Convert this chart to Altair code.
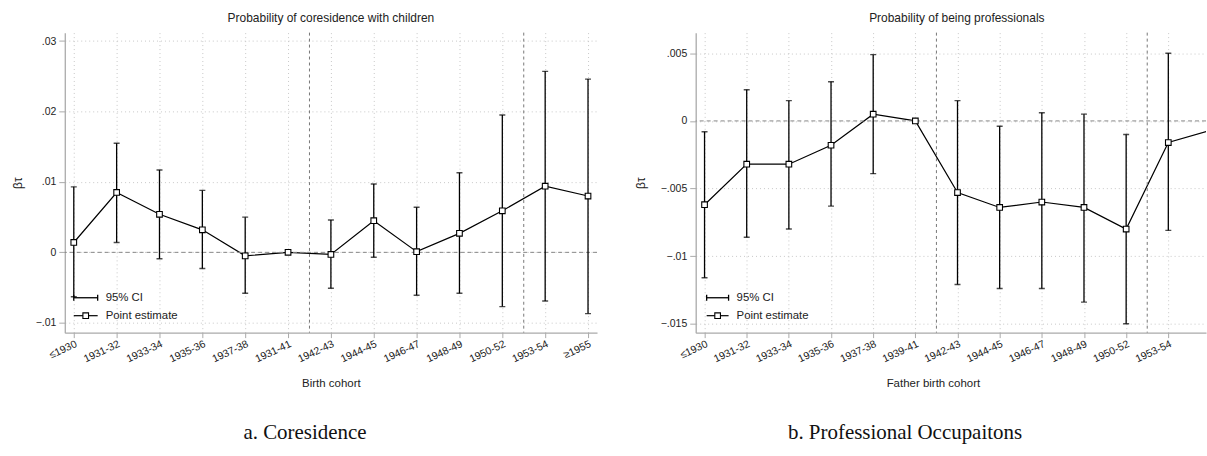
import altair as alt
import pandas as pd

# ---------------- data ----------------
cohorts_a = ["≤1930", "1931-32", "1933-34", "1935-36", "1937-38", "1931-41", "1942-43",
             "1944-45", "1946-47", "1948-49", "1950-52", "1953-54", "≥1955"]
est_a = [0.0014, 0.0085, 0.0054, 0.0032, -0.0005, 0.0, -0.0003, 0.0045, 0.0001, 0.0027, 0.0059, 0.0094, 0.0080]
lo_a = [-0.0063, 0.0014, -0.0009, -0.0023, -0.0058, None, -0.0051, -0.0007, -0.0061, -0.0058, -0.0077, -0.0069, -0.0087]
hi_a = [0.0093, 0.0155, 0.0117, 0.0088, 0.0050, None, 0.0046, 0.0097, 0.0064, 0.0113, 0.0195, 0.0257, 0.0246]

cohorts_b = ["≤1930", "1931-32", "1933-34", "1935-36", "1937-38", "1939-41", "1942-43",
             "1944-45", "1946-47", "1948-49", "1950-52", "1953-54", "≥1955"]
est_b = [-0.0062, -0.0032, -0.0032, -0.0018, 0.0005, 0.0, -0.0053, -0.0064, -0.0060, -0.0064, -0.0080, -0.0016, -0.0007]
lo_b = [-0.0116, -0.0086, -0.0080, -0.0063, -0.0039, None, -0.0121, -0.0124, -0.0124, -0.0134, -0.0150, -0.0081, -0.0075]
hi_b = [-0.0008, 0.0023, 0.0015, 0.0029, 0.0049, None, 0.0015, -0.0004, 0.0006, 0.0005, -0.0010, 0.0050, 0.0060]

yticks_a = [-0.01, 0.0, 0.01, 0.02, 0.03]
yticks_b = [-0.015, -0.01, -0.005, 0.0, 0.005]
breaks = [5.5, 10.5]

FONT = "Liberation Sans"
H = 301
EXT = 30


def panel(labels, est, lo, hi, ydom, yticks, title, xtitle, width, xmax, shown, caption, cap_x,
          leg_x0, ytitle_pad, xtitle_x=None, title_dx=0):
    df = pd.DataFrame({"idx": list(range(len(labels))), "label": labels,
                       "est": est, "lo": lo, "hi": hi})
    ci = df.dropna(subset=["lo", "hi"])
    arr = "[" + ",".join("'" + s + "'" for s in labels) + "]"
    xdom = [-0.21, xmax]

    xaxis = alt.Axis(values=list(range(shown)), labelExpr=arr + "[datum.value]",
                     labelAngle=-25, labelAlign="right", labelBaseline="top", labelPadding=1,
                     labelFont=FONT, labelFontSize=10.5, labelColor="#222",
                     grid=True, gridDash=[1, 3], gridColor="#c8c8c8", gridWidth=1,
                     tickSize=5, tickColor="#aaa", domainColor="#aaa", domainWidth=1.3,
                     title=xtitle, titleFont=FONT, titleFontSize=11.5, titleFontWeight="normal",
                     titleColor="#222", titlePadding=13,
                     **({"titleX": xtitle_x} if xtitle_x is not None else {}))
    yaxis = alt.Axis(values=yticks,
                     labelExpr="datum.value == 0 ? '0' : replace(format(datum.value, '~g'), '0.', '.')",
                     labelFont=FONT, labelFontSize=10.5, labelColor="#222", labelPadding=3,
                     grid=True, gridDash=[1, 3], gridColor="#c8c8c8", gridWidth=1,
                     tickSize=6, tickColor="#aaa", domainColor="#aaa", domainWidth=1.3,
                     minExtent=EXT, maxExtent=EXT,
                     title="βτ", titleFont=FONT, titleFontSize=12, titleFontWeight="normal",
                     titleColor="#222", titlePadding=ytitle_pad)

    x = alt.X("idx:Q", scale=alt.Scale(domain=xdom, nice=False, zero=False), axis=xaxis)
    y = alt.Y("est:Q", scale=alt.Scale(domain=ydom, nice=False, zero=False), axis=yaxis)

    base = alt.Chart(df)
    zero = alt.Chart(pd.DataFrame({"z": [0.0]})).mark_rule(
        color="#888", strokeDash=[4, 3], strokeWidth=1).encode(y=alt.Y("z:Q"))
    vlines = alt.Chart(pd.DataFrame({"b": breaks})).mark_rule(
        color="#777", strokeDash=[3, 3], strokeWidth=1).encode(x=alt.X("b:Q"))
    bars = alt.Chart(ci).mark_rule(color="black", strokeWidth=1.3, clip=True).encode(
        x="idx:Q", y="lo:Q", y2="hi:Q")
    cap_lo = alt.Chart(ci).mark_tick(color="black", orient="horizontal", size=6, thickness=1.4,
                                     clip=True).encode(x="idx:Q", y="lo:Q")
    cap_hi = alt.Chart(ci).mark_tick(color="black", orient="horizontal", size=6, thickness=1.4,
                                     clip=True).encode(x="idx:Q", y="hi:Q")
    line = base.mark_line(color="black", strokeWidth=1.2, clip=True).encode(x=x, y=y)
    pts = base.mark_square(size=32, color="white", stroke="black", strokeWidth=1.1, opacity=1,
                           clip=True).encode(x="idx:Q", y="est:Q")

    one = alt.Chart(pd.DataFrame({"a": [1]}))
    r1, r2 = 266, 284
    leg = [
        one.mark_rule(color="black", strokeWidth=1.3).encode(
            x=alt.value(leg_x0), x2=alt.value(33), y=alt.value(r1)),
        one.mark_rule(color="black", strokeWidth=1.3).encode(
            x=alt.value(leg_x0), y=alt.value(r1 - 3), y2=alt.value(r1 + 3)),
        one.mark_rule(color="black", strokeWidth=1.3).encode(
            x=alt.value(33), y=alt.value(r1 - 3), y2=alt.value(r1 + 3)),
        one.mark_text(text="95% CI", font=FONT, fontSize=11.4, align="left", baseline="middle",
                      color="#222").encode(x=alt.value(41), y=alt.value(r1)),
        one.mark_rule(color="black", strokeWidth=1.2).encode(
            x=alt.value(leg_x0), x2=alt.value(33), y=alt.value(r2)),
        one.mark_square(size=32, color="white", stroke="black", strokeWidth=1.1, opacity=1).encode(
            x=alt.value((leg_x0 + 33) / 2), y=alt.value(r2)),
        one.mark_text(text="Point estimate", font=FONT, fontSize=11.4, align="left", baseline="middle",
                      color="#222").encode(x=alt.value(41), y=alt.value(r2)),
    ]
    cap = alt.Chart(pd.DataFrame({"t": [caption]})).mark_text(
        font="Liberation Serif", fontSize=21, align="center", baseline="middle", color="#111").encode(
        x=alt.value(cap_x), y=alt.value(402), text="t:N")

    return alt.layer(line, zero, vlines, bars, cap_lo, cap_hi, pts, *leg, cap).properties(
        width=width, height=H,
        title=alt.TitleParams(title, font=FONT, fontSize=12, fontWeight="normal", color="#222",
                              anchor="middle", offset=7, dx=title_dx))


left = panel(cohorts_a, est_a, lo_a, hi_a, [-0.0114, 0.0312], yticks_a,
             "Probability of coresidence with children", "Birth cohort", 534, 12.21, 13,
             "a. Coresidence", 241, 9, 10)
right = panel(cohorts_b, est_b, lo_b, hi_b, [-0.01566, 0.00653], yticks_b,
              "Probability of being professionals", "Father birth cohort", 512,
              -0.21 + 512 / 42.3, 12,
              "b. Professional Occupaitons", 210, 11, 18, xtitle_x=238, title_dx=6)

chart = alt.hconcat(left, right, spacing=37).properties(
    padding={"left": 12, "top": 11, "right": 0, "bottom": 0}
).configure(background="white").configure_view(stroke=None)

chart.save("out.html", embed_options={"renderer": "svg", "actions": False})
